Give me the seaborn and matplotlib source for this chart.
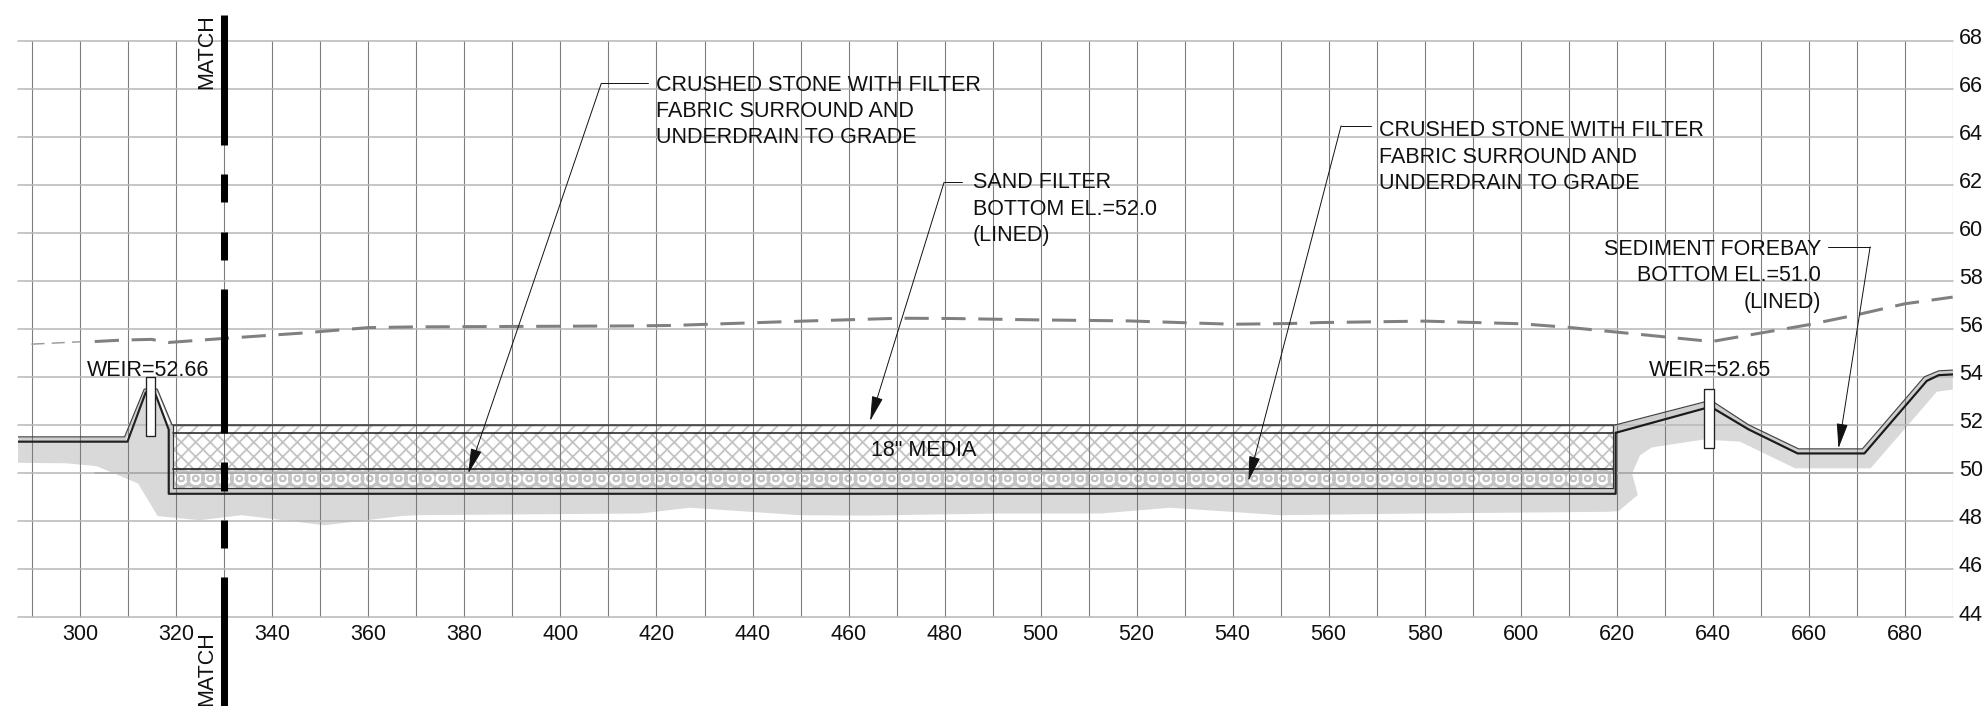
import matplotlib
matplotlib.use('Agg')
import matplotlib.hatch as mhatch
import matplotlib.pyplot as plt
import matplotlib.transforms as mtrans
import seaborn as sns

# stations and elevations
x_major = [300, 320, 340, 360, 380, 400, 420, 440, 460, 480, 500, 520, 540, 560, 580, 600, 620, 640, 660, 680]
x_minor = [290, 310, 330, 350, 370, 390, 410, 430, 450, 470, 490, 510, 530, 550, 570, 590, 610, 630, 650, 670, 690]
y_major = [44, 46, 48, 50, 52, 54, 56, 58, 60, 62, 64, 66, 68]

# existing grade (dashed)
exist_thin_x = [289.8, 300.0]
exist_thin_y = [55.36, 55.46]
exist_x = [303.0, 308.7, 314.8, 318.3, 330.0, 346.0, 360.0, 370.0, 414.8, 423.3, 450.5, 470.7, 481.0, 499.6, 518.0, 540.0, 552.0, 558.2, 580.0, 600.0, 610.0, 639.8, 660.0, 670.4, 680.0, 690.0]
exist_y = [55.47, 55.53, 55.56, 55.43, 55.60, 55.82, 56.05, 56.08, 56.12, 56.14, 56.32, 56.44, 56.43, 56.37, 56.33, 56.19, 56.22, 56.26, 56.32, 56.21, 56.06, 55.47, 56.17, 56.60, 57.04, 57.32]

# proposed grade, upper thin line and lower heavy line
grade_l_top_x = [287.0, 309.2, 313.3, 316.0, 319.1, 619.8]
grade_l_top_y = [51.5, 51.5, 53.49, 53.49, 52.0, 52.0]
grade_l_low_x = [287.0, 309.8, 313.6, 315.5, 318.4, 318.4, 619.8, 619.8]
grade_l_low_y = [51.3, 51.3, 53.35, 53.35, 51.8, 49.13, 49.13, 51.67]

grade_r_top_x = [619.8, 638.2, 640.2, 647.5, 657.9, 671.2, 684.1, 687.1, 690.0]
grade_r_top_y = [52.0, 52.95, 52.95, 52.0, 51.0, 51.0, 54.0, 54.25, 54.28]
grade_r_low_x = [619.8, 638.2, 640.2, 647.5, 657.7, 671.6, 684.6, 687.1, 690.0]
grade_r_low_y = [51.67, 52.68, 52.68, 51.81, 50.81, 50.81, 53.83, 54.07, 54.1]

# shaded ground below the grade, traced clockwise
ground_x = [287.0, 309.8, 313.6, 315.5, 318.4, 619.8, 638.2, 640.2, 647.5, 657.7, 671.6, 684.6, 687.1, 690.0,
            690.0, 686.7, 672.9, 657.2, 645.7, 638.2, 627.3, 624.9, 623.2, 624.4, 620.4, 618.0, 579.3, 550.0, 527.0,
            512.6, 491.6, 463.0, 449.9, 427.0, 416.6, 370.0, 366.6, 350.9, 333.6, 324.9, 316.1, 312.0, 303.4, 297.1, 287.0]
ground_y = [51.3, 51.3, 53.35, 53.35, 51.8, 51.67, 52.68, 52.68, 51.81, 50.81, 50.81, 53.83, 54.07, 54.1,
            53.47, 53.38, 50.19, 50.19, 51.3, 51.39, 51.06, 50.74, 49.98, 49.08, 48.41, 48.38, 48.31, 48.24, 48.55,
            48.31, 48.31, 48.22, 48.24, 48.55, 48.31, 48.24, 48.2, 47.82, 48.24, 48.03, 48.2, 49.56, 50.28, 50.4, 50.42]

# filter section levels
filter_x = [319.2, 619.3]
wall_x = [318.4, 619.8]
el_top = 52.0
el_sand = 51.67
el_stone = 50.16
el_inner = 49.36
el_outer = 49.13

# weir boards
weir_l_x = [313.6, 315.6]
weir_l_y = [51.53, 54.0]
weir_r_x = [638.2, 640.2]
weir_r_y = [51.03, 53.49]

# match line dashes
match_x = 330
match_dashes = [(69.05, 63.64), (62.43, 61.27), (60.02, 58.86), (57.65, 51.67), (50.45, 49.26), (48.04, 46.87), (45.66, 40.3)]

# labels
stone_text = 'CRUSHED STONE WITH FILTER\nFABRIC SURROUND AND\nUNDERDRAIN TO GRADE'
sand_text = 'SAND FILTER\nBOTTOM EL.=52.0\n(LINED)'
bay_text = 'SEDIMENT FOREBAY\nBOTTOM EL.=51.0\n(LINED)'

DPI = 87
sns.set_theme(style='whitegrid')
plt.rcParams['font.family'] = ['Liberation Sans', 'DejaVu Sans']
plt.rcParams['hatch.linewidth'] = 1.5
FS = 17.85
LS = 1.33
# bigger circles so the 'O' hatch reads as cobbles
mhatch.LargeCircles.size = 0.58

fig = plt.figure(figsize=(1983 / DPI, 706 / DPI), dpi=DPI, facecolor='white')
ax = fig.add_axes([18 / 1983, 1 - 617 / 706, (1952.7 - 18) / 1983, (617 - 40.6) / 706])


def draw(x, y, lw, color='#222222', z=4, **kw):
    sns.lineplot(x=x, y=y, sort=False, estimator=None, lw=lw, color=color, zorder=z, ax=ax, **kw)


# ground and filter fills
ax.fill(ground_x, ground_y, color='#d9d9d9', lw=0, zorder=1)
ax.fill_between(grade_r_top_x, grade_r_top_y, grade_r_low_y, color='#cfcfcf', lw=0, zorder=1.2)
ax.fill_between(grade_l_top_x[:5], grade_l_top_y[:5], [51.3, 51.3, 53.35, 53.35, 51.8], color='#cfcfcf', lw=0, zorder=1.2)
ax.fill_between(wall_x, el_outer, el_top, color='#cfcfcf', lw=0, zorder=1.3)
ax.fill_between(filter_x, el_sand, el_top, facecolor='white', edgecolor='#c4c4c4', hatch='//', lw=0, zorder=1.5)
ax.fill_between(filter_x, el_stone, el_sand, facecolor='white', edgecolor='#c4c4c4', hatch='xx', lw=0, zorder=1.5)
ax.fill_between(filter_x, el_inner, el_stone, facecolor='white', edgecolor='#c4c4c4', hatch='Oo', lw=0, zorder=1.5)

# grid sits on top of the fills
ax.set_xlim(287, 690)
ax.set_ylim(44, 68)
ax.set_xticks(x_major)
ax.set_xticks(x_minor, minor=True)
ax.set_yticks(y_major)
ax.yaxis.tick_right()
ax.grid(False)
ax.set_axisbelow(False)
ax.xaxis.grid(True, which='both', color='#7c7c7c', lw=0.9, zorder=2)
ax.yaxis.grid(True, which='major', color='#b8b8b8', lw=1.3, zorder=2)
for gl in ax.get_xgridlines() + ax.get_ygridlines() + ax.xaxis.get_minorticklines():
    gl.set_clip_on(False)
for sp in ax.spines.values():
    sp.set_visible(False)
ax.tick_params(axis='x', which='both', length=0, pad=6, labelsize=FS, labelcolor='#111111')
ax.tick_params(axis='y', which='both', length=0, pad=5, labelsize=FS, labelcolor='#111111')
fig.canvas.draw()
shift = mtrans.ScaledTranslation(0, 4.5 / DPI, fig.dpi_scale_trans)
for lab in ax.get_yticklabels():
    lab.set_transform(lab.get_transform() + shift)
draw([303, 690], [50, 50], 1.3, color='#707070', z=2.2)

# dashed existing grade
draw(exist_thin_x, exist_thin_y, 1.2, color='#9a9a9a', z=3, dashes=(9, 5))
draw(exist_x, exist_y, 2.5, color='#808080', z=3, dashes=(8, 4.2))

# filter lines
draw(filter_x, [el_top, el_top], 1.2, color='#555555')
draw(filter_x, [el_sand, el_sand], 1.3)
draw(filter_x, [el_stone, el_stone], 1.4)
draw(filter_x, [el_inner, el_inner], 1.1, color='#333333')
draw([filter_x[0], filter_x[0]], [el_inner, el_top], 1.0, color='#333333')
draw([filter_x[1], filter_x[1]], [el_inner, el_top], 1.0, color='#333333')

# proposed grade
draw(grade_l_top_x, grade_l_top_y, 1.0, color='#444444')
draw(grade_l_low_x, grade_l_low_y, 1.8, color='#222222')
draw(grade_r_top_x, grade_r_top_y, 1.0, color='#444444')
draw(grade_r_low_x, grade_r_low_y, 1.8, color='#1a1a1a')

# weir boards
for wx, wy in [(weir_l_x, weir_l_y), (weir_r_x, weir_r_y)]:
    ax.fill_between(wx, wy[0], wy[1], facecolor='white', edgecolor='#222222', lw=1.1, zorder=5)

# match line
for top, bottom in match_dashes:
    sns.lineplot(x=[match_x, match_x], y=[top, bottom], sort=False, estimator=None, lw=5.8,
                 color='black', zorder=6, ax=ax, solid_capstyle='butt', clip_on=False)
ax.text(326.3, 66.0, 'MATCH', rotation=90, ha='center', va='bottom', fontsize=FS, color='#111111', clip_on=False)
ax.text(326.3, 43.4, 'MATCH', rotation=90, ha='center', va='top', fontsize=FS, color='#111111', clip_on=False)


# leader: short horizontal run, then a long arrow to the tip
def leader(x_end, x_elbow, y_level, tip):
    draw([x_end, x_elbow], [y_level, y_level], 0.8, color='#111111', z=5)
    ax.annotate('', xy=tip, xytext=(x_elbow, y_level), zorder=5,
                arrowprops=dict(arrowstyle='-|>,head_length=18,head_width=4', mutation_scale=1,
                                color='#111111', lw=0.8, shrinkA=0, shrinkB=0))


leader(418.3, 408.5, 66.22, (380.8, 49.98))
leader(483.7, 479.9, 62.1, (464.5, 52.16))
leader(568.8, 562.6, 64.45, (543.3, 49.66))
leader(664.0, 672.8, 59.41, (666.2, 51.02))

ax.text(419.9, 65.05, stone_text, ha='left', va='center', fontsize=FS, linespacing=LS, color='#111111', zorder=7)
ax.text(485.9, 60.98, sand_text, ha='left', va='center', fontsize=FS, linespacing=LS, color='#111111', zorder=7)
ax.text(570.4, 63.15, stone_text, ha='left', va='center', fontsize=FS, linespacing=LS, color='#111111', zorder=7)
ax.text(662.6, 58.2, bay_text, ha='right', va='center', multialignment='right', fontsize=FS, linespacing=LS, color='#111111', zorder=7)
ax.text(301.4, 54.28, 'WEIR=52.66', ha='left', va='center', fontsize=FS, color='#111111', zorder=7)
ax.text(626.8, 54.28, 'WEIR=52.65', ha='left', va='center', fontsize=FS, color='#111111', zorder=7)
ax.text(475.7, 50.95, '18" MEDIA', ha='center', va='center', fontsize=FS, color='#111111', zorder=7)

ax.set_xlabel('')
ax.set_ylabel('')
fig.savefig('out.png', dpi=DPI, facecolor='white')
